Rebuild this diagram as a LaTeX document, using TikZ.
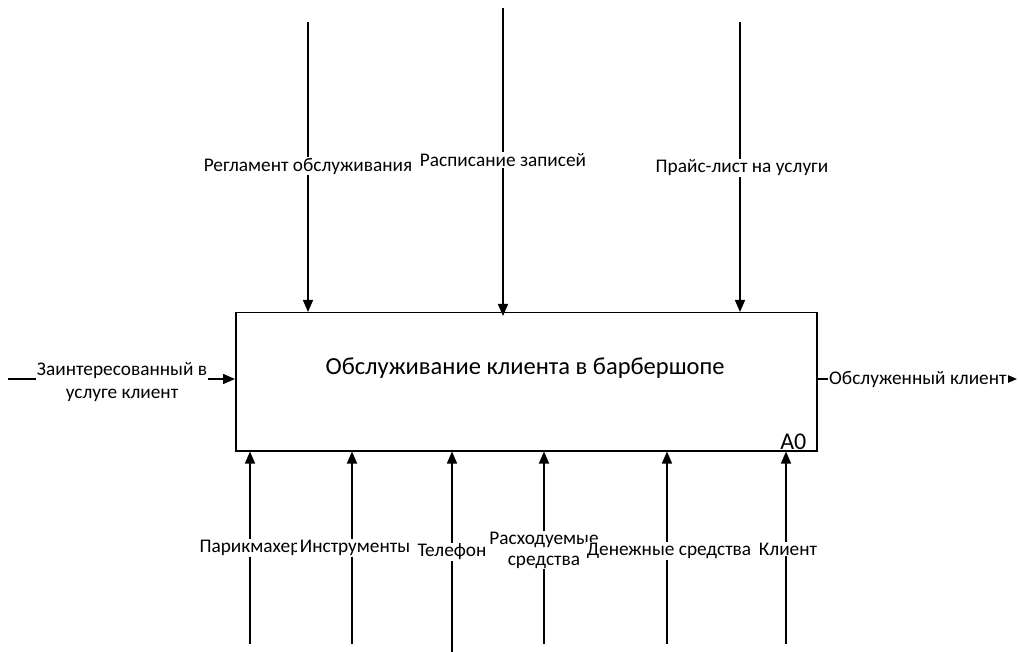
\documentclass[tikz,border=0pt]{standalone}
\usepackage{fontspec}
\setmainfont{Carlito}
\usetikzlibrary{arrows.meta}
\tikzset{
    arr/.style={line width=1.5pt, -{Triangle[length=12pt,width=10pt]}},
    lbl/.style={fill=white, inner sep=1pt, font=\fontsize{19.3}{21}\selectfont, align=center},
}
\begin{document}
\begin{tikzpicture}[x=1pt,y=-1pt]
        \useasboundingbox (0,0) rectangle (1018,652);
        
        \node[draw, line width=1.5pt, minimum width=581pt, minimum height=138pt, anchor=north west, inner sep=0pt] (box) at (235,312) {};
        \node[font=\fontsize{24.5}{26}\selectfont] (title) at (525,368) {Обслуживание клиента в барбершопе};
        \node[anchor=south east, font=\fontsize{24}{26}\selectfont, inner sep=2pt] (a0) at ([xshift=-9pt]box.south east) {A0};
        
        % controls
        \coordinate (c1) at (308,22);
        \coordinate (c2) at (503,8);
        \coordinate (c3) at (740,22);
        \draw[arr] (c1) -- (c1 |- box.north);
        \draw[arr] (c2) -- ([yshift=-4pt]c2 |- box.north);
        \draw[arr] (c3) -- (c3 |- box.north);
        \node[lbl] (l1) at (308,166) {Регламент обслуживания};
        \node[lbl] (l2) at (503,160) {Расписание записей};
        \node[lbl] (l3) at (742,168) {Прайс-лист на услуги};
        
        % input and output
        \coordinate (i1) at (8,379);
        \coordinate (o1) at (1017,379);
        \draw[arr] (i1) -- (i1 -| box.west);
        \draw[arr] (o1 -| box.east) -- (o1);
        \node[lbl] (in) at (122,382) {Заинтересованный в\\[2pt]услуге клиент};
        \node[lbl, anchor=west] (out) at (828,379) {Обслуженный клиент};
        
        % mechanisms
        \coordinate (m1) at (250,644);
        \coordinate (m2) at (352,644);
        \coordinate (m3) at (452,652);
        \coordinate (m4) at (544,644);
        \coordinate (m5) at (667,644);
        \coordinate (m6) at (786,644);
        \foreach \m in {m1,m2,m3,m4,m5,m6}
            \draw[arr] (\m) -- (\m |- box.south);
        \node[lbl] (b1) at (250,548) {Парикмахер};
        \node[lbl, inner xsep=3pt] (b2) at (355,548) {Инструменты};
        \node[lbl] (b3) at (452,552) {Телефон};
        \node[lbl] (b4) at (544,550) {Расходуемые\\средства};
        \node[lbl] (b5) at (669,551) {Денежные средства};
        \node[lbl] (b6) at (788,549) {Клиент};
    \end{tikzpicture}
\end{document}
